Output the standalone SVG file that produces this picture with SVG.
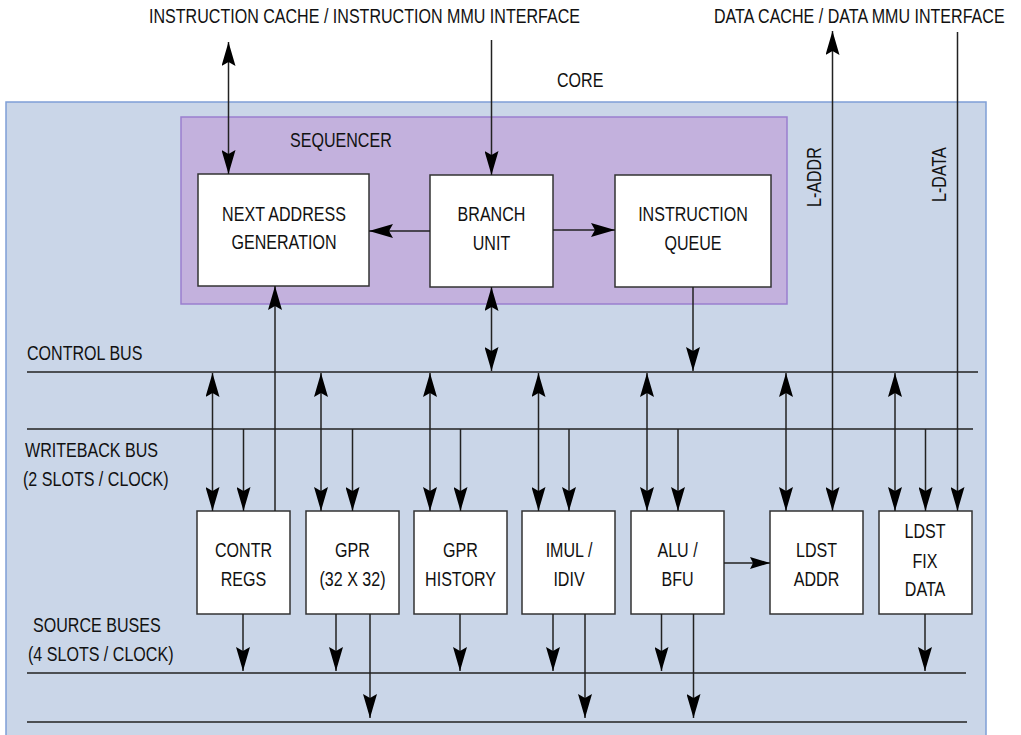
<svg xmlns="http://www.w3.org/2000/svg" width="1021" height="735" viewBox="0 0 1021 735">
<style>
text{font-family:"Liberation Sans",Arial,sans-serif;font-size:19.5px;fill:#111}
.c{text-anchor:middle}
.box{fill:#fff;stroke:#333;stroke-width:1.5}
.ln{stroke:#222;stroke-width:1.5;fill:none}
.bus{stroke:#222;stroke-width:1.5;fill:none}
.a{marker-end:url(#ah)}
.b{marker-start:url(#ah);marker-end:url(#ah)}
.s{marker-end:url(#ahs)}
</style>
<defs>
<marker id="ah" markerUnits="userSpaceOnUse" markerWidth="24" markerHeight="14" viewBox="0 0 24 14" refX="24" refY="7" orient="auto-start-reverse">
<path d="M0,0 L24,7 L0,14 L4,7 z" fill="#000"/>
</marker>
<marker id="ahs" markerUnits="userSpaceOnUse" markerWidth="20" markerHeight="12" viewBox="0 0 20 12" refX="20" refY="6" orient="auto-start-reverse">
<path d="M0,0 L20,6 L0,12 L3,6 z" fill="#000"/>
</marker>
</defs>
<rect width="1021" height="735" fill="#fff"/>
<g id="labels-top">
<text transform="translate(149,23) scale(0.824,1)">INSTRUCTION CACHE / INSTRUCTION MMU INTERFACE</text>
<text transform="translate(714,23) scale(0.824,1)">DATA CACHE / DATA MMU INTERFACE</text>
</g>
<g id="core">
<rect x="6" y="102" width="980" height="645" fill="#cad6e8" stroke="#7f9fd6" stroke-width="1.5"/>
<text transform="translate(557,87) scale(0.824,1)">CORE</text>
</g>
<g id="sequencer">
<rect x="181" y="117" width="606" height="187" fill="#c3b1dd" stroke="#9a7fce" stroke-width="1.5"/>
<text transform="translate(290,147) scale(0.824,1)">SEQUENCER</text>
</g>
<g id="next-address">
<rect class="box" x="198" y="174" width="171" height="112"/>
<text class="c" transform="translate(284,221) scale(0.824,1)">NEXT ADDRESS</text>
<text class="c" transform="translate(284,249) scale(0.824,1)">GENERATION</text>
</g>
<g id="branch-unit">
<rect class="box" x="430" y="175" width="123" height="112"/>
<text class="c" transform="translate(491.5,221) scale(0.824,1)">BRANCH</text>
<text class="c" transform="translate(491.5,250) scale(0.824,1)">UNIT</text>
</g>
<g id="instruction-queue">
<rect class="box" x="615" y="175" width="156" height="112"/>
<text class="c" transform="translate(693,221) scale(0.824,1)">INSTRUCTION</text>
<text class="c" transform="translate(693,250) scale(0.824,1)">QUEUE</text>
</g>
<g id="bus-labels">
<text transform="translate(27,360) scale(0.824,1)">CONTROL BUS</text>
<text transform="translate(25,457) scale(0.824,1)">WRITEBACK BUS</text>
<text transform="translate(23,486) scale(0.824,1)">(2 SLOTS / CLOCK)</text>
<text transform="translate(33,632) scale(0.824,1)">SOURCE BUSES</text>
<text transform="translate(28,661) scale(0.824,1)">(4 SLOTS / CLOCK)</text>
<text transform="translate(821,207) rotate(-90) scale(0.824,1)">L-ADDR</text>
<text transform="translate(946,202) rotate(-90) scale(0.824,1)">L-DATA</text>
</g>
<g id="contr-regs">
<rect class="box" x="197" y="511" width="93" height="103"/>
<text class="c" transform="translate(243.5,557) scale(0.824,1)">CONTR</text>
<text class="c" transform="translate(243.5,586) scale(0.824,1)">REGS</text>
</g>
<g id="gpr">
<rect class="box" x="306" y="511" width="93" height="103"/>
<text class="c" transform="translate(352.5,557) scale(0.824,1)">GPR</text>
<text class="c" transform="translate(352.5,586) scale(0.824,1)">(32 X 32)</text>
</g>
<g id="gpr-history">
<rect class="box" x="414" y="511" width="93" height="103"/>
<text class="c" transform="translate(460.5,557) scale(0.824,1)">GPR</text>
<text class="c" transform="translate(460.5,586) scale(0.824,1)">HISTORY</text>
</g>
<g id="imul-idiv">
<rect class="box" x="522" y="511" width="93" height="103"/>
<text class="c" transform="translate(569,557) scale(0.824,1)">IMUL /</text>
<text class="c" transform="translate(569,586) scale(0.824,1)">IDIV</text>
</g>
<g id="alu-bfu">
<rect class="box" x="631" y="511" width="93" height="103"/>
<text class="c" transform="translate(677.5,557) scale(0.824,1)">ALU /</text>
<text class="c" transform="translate(677.5,586) scale(0.824,1)">BFU</text>
</g>
<g id="ldst-addr">
<rect class="box" x="770" y="511" width="93" height="103"/>
<text class="c" transform="translate(816.5,557) scale(0.824,1)">LDST</text>
<text class="c" transform="translate(816.5,586) scale(0.824,1)">ADDR</text>
</g>
<g id="ldst-fix-data">
<rect class="box" x="879" y="511" width="93" height="103"/>
<text class="c" transform="translate(925,538) scale(0.824,1)">LDST</text>
<text class="c" transform="translate(925,568) scale(0.824,1)">FIX</text>
<text class="c" transform="translate(925,596) scale(0.824,1)">DATA</text>
</g>
<g id="connectors">
<line class="bus" x1="27" y1="372" x2="978" y2="372"/>
<line class="bus" x1="27" y1="429" x2="973" y2="429"/>
<line class="bus" x1="27" y1="673" x2="966" y2="673"/>
<line class="bus" x1="27" y1="722" x2="967" y2="722"/>
<line class="ln b" x1="228.5" y1="42" x2="228.5" y2="174"/>
<line class="ln a" x1="491.5" y1="40" x2="491.5" y2="175"/>
<line class="ln a" x1="430" y1="231" x2="369" y2="231"/>
<line class="ln a" x1="553" y1="230" x2="615" y2="230"/>
<line class="ln a" x1="275" y1="511" x2="275" y2="286"/>
<line class="ln b" x1="491.5" y1="287" x2="491.5" y2="371"/>
<line class="ln a" x1="693" y1="287" x2="693" y2="371"/>
<line class="ln b" x1="832.5" y1="31" x2="832.5" y2="511"/>
<line class="ln a" x1="957.5" y1="32" x2="957.5" y2="511"/>
<line class="ln b" x1="212.5" y1="373" x2="212.5" y2="511"/>
<line class="ln b" x1="321" y1="373" x2="321" y2="511"/>
<line class="ln b" x1="430" y1="373" x2="430" y2="511"/>
<line class="ln b" x1="538.5" y1="373" x2="538.5" y2="511"/>
<line class="ln b" x1="647" y1="373" x2="647" y2="511"/>
<line class="ln b" x1="786" y1="373" x2="786" y2="511"/>
<line class="ln b" x1="895" y1="373" x2="895" y2="511"/>
<line class="ln a" x1="243.5" y1="429" x2="243.5" y2="511"/>
<line class="ln a" x1="352.5" y1="429" x2="352.5" y2="511"/>
<line class="ln a" x1="460.5" y1="429" x2="460.5" y2="511"/>
<line class="ln a" x1="569" y1="429" x2="569" y2="511"/>
<line class="ln a" x1="678" y1="429" x2="678" y2="511"/>
<line class="ln a" x1="925.5" y1="429" x2="925.5" y2="511"/>
<line class="ln s" x1="724" y1="563" x2="770" y2="563"/>
<line class="ln a" x1="243" y1="614" x2="243" y2="671"/>
<line class="ln a" x1="336" y1="614" x2="336" y2="671"/>
<line class="ln a" x1="370" y1="614" x2="370" y2="718"/>
<line class="ln a" x1="460" y1="614" x2="460" y2="671"/>
<line class="ln a" x1="553" y1="614" x2="553" y2="671"/>
<line class="ln a" x1="585" y1="614" x2="585" y2="718"/>
<line class="ln a" x1="661.5" y1="614" x2="661.5" y2="671"/>
<line class="ln a" x1="693.5" y1="614" x2="693.5" y2="718"/>
<line class="ln a" x1="925" y1="614" x2="925" y2="671"/>
</g>
</svg>
